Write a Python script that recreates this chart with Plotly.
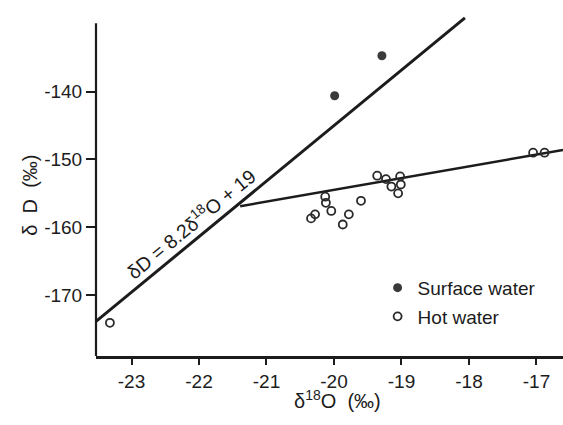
import plotly.graph_objects as go

# Data
surface_x = [-19.99, -19.29]
surface_y = [-140.6, -134.7]

hot_x = [-19.36, -19.23, -19.15, -19.02, -19.01, -19.05,
         -20.13, -20.12, -20.04, -19.60, -20.28, -20.34,
         -19.78, -19.87, -17.05, -16.88, -23.32]
hot_y = [-152.4, -152.9, -154.0, -152.5, -153.7, -155.0,
         -155.5, -156.4, -157.6, -156.1, -158.1, -158.7,
         -158.1, -159.6, -149.0, -149.0, -174.1]

# Meteoric water line dD = 8.2 d18O + 19 (end points as drawn)
mwl_x = [-23.526, -18.06]
mwl_y = [-173.9, -129.1]

# Trend line of hot water
hot_line_x = [-21.39, -16.607]
hot_line_y = [-156.9, -148.6]

x_ticks = [-23, -22, -21, -20, -19, -18, -17]
y_ticks = [-170, -160, -150, -140]

INK = "#1c1c1c"
FONT = "Liberation Sans, Arial, Helvetica, sans-serif"

fig = go.Figure()
fig.add_trace(go.Scatter(x=mwl_x, y=mwl_y, mode="lines",
                         line=dict(color=INK, width=3), showlegend=False,
                         hoverinfo="skip"))
fig.add_trace(go.Scatter(x=hot_line_x, y=hot_line_y, mode="lines",
                         line=dict(color=INK, width=2.5), showlegend=False,
                         hoverinfo="skip"))
fig.add_trace(go.Scatter(x=surface_x, y=surface_y, mode="markers",
                         name="Surface water", legendgroup="s",
                         marker=dict(symbol="circle", size=9, color="#3a3a3a",
                                     line=dict(width=0))))
fig.add_trace(go.Scatter(x=hot_x, y=hot_y, mode="markers",
                         name="Hot water", legendgroup="h",
                         marker=dict(symbol="circle-open", size=8, color="#2a2a2a",
                                     line=dict(width=1.8))))

# left axis line (stops at its own top, while the plot area extends higher)
fig.add_shape(type="line", xref="paper", x0=0, x1=0, yref="y",
              y0=-179.0, y1=-129.9, line=dict(color=INK, width=2.2))

fig.add_annotation(x=-22.12, y=-159.4, xref="x", yref="y",
                   text="δD = 8.2δ<sup>18</sup>O + 19", showarrow=False,
                   textangle=-39.5, font=dict(size=19.5, color=INK, family=FONT))
fig.add_annotation(x=0.518, y=-0.168, xref="paper", yref="paper",
                   text="δ<sup>18</sup>O  (‰)", showarrow=False,
                   font=dict(size=20, color=INK, family=FONT))
fig.add_annotation(x=-0.168, y=0.465, xref="paper", yref="paper",
                   text="δ  D  (‰)", showarrow=False, textangle=-90,
                   font=dict(size=20, color=INK, family=FONT))

fig.update_layout(
    width=563, height=425,
    margin=dict(l=96, r=0, t=10, b=69),
    paper_bgcolor="white", plot_bgcolor="white",
    font=dict(family=FONT, size=19, color=INK),
    showlegend=True,
    legend=dict(x=0.603, y=0.252, xanchor="left", yanchor="top",
                bgcolor="rgba(0,0,0,0)", font=dict(size=19, color=INK),
                tracegroupgap=1, itemwidth=30),
    xaxis=dict(range=[-23.526, -16.607], tickvals=x_ticks,
               ticktext=[str(v) for v in x_ticks],
               ticks="outside", ticklen=6, tickwidth=2, tickcolor=INK,
               showline=True, linecolor=INK, linewidth=2.5,
               showgrid=False, zeroline=False,
               tickfont=dict(size=19, color=INK, family=FONT)),
    yaxis=dict(range=[-179.0, -127.95], tickvals=y_ticks,
               ticktext=[str(v) for v in y_ticks],
               ticks="outside", ticklen=9, tickwidth=2, tickcolor=INK,
               showline=False, showgrid=False, zeroline=False,
               tickfont=dict(size=19, color=INK, family=FONT)),
)

fig.write_html("out.html")
